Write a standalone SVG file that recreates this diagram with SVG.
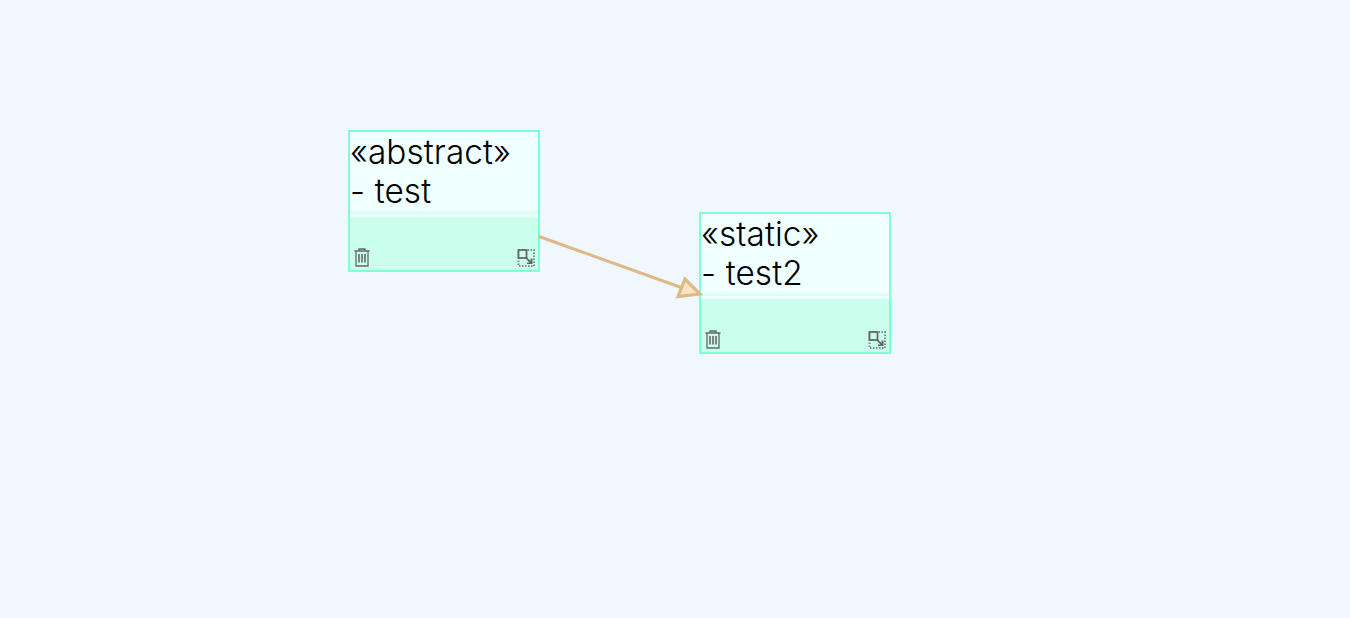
<svg xmlns="http://www.w3.org/2000/svg" width="1350" height="618" viewBox="0 0 1350 618">
<style>
.frame{fill:#f0ffff;stroke:none}
.body{fill:#c9ffec}
.border{fill:none;stroke:#7fffd4;stroke-width:2}
.band{fill:#d9fff2}
.t{font-family:Inter,"Noto Sans",sans-serif;font-weight:300;font-size:33.33px;letter-spacing:.1px;fill:#000}
.ic{fill:none;stroke:#666;stroke-width:1.3}
.ic2{fill:none;stroke:#666;stroke-width:2;stroke-dasharray:1.5 1.5;opacity:.75}
.icf{fill:#666;stroke:none}
</style>
<defs>
<g id="trash">
<path class="ic" d="M0.500 3H15.500M5 3V1H11V3M2 3V18H14V3"/>
<path d="M5 6V14.500M8 6V14.500M11 6V14.500" fill="none" stroke="#666" stroke-width="1.600"/>
</g>
<g id="resize">
<rect class="ic2" x="1" y="1" width="15.500" height="16"/>
<rect x="1" y="1" width="8" height="8" fill="#c9ffec" stroke="#666" stroke-width="1.800"/>
<path class="icf" d="M8 9.500L9.500 8.500L13 12V9.500H15V15H9.500V13.500H12Z"/>
</g>
</defs>
<rect width="1350" height="618" fill="#f0f8ff"/>
<g id="node-abstract">
<rect class="frame" x="349" y="131" width="190" height="140"/>
<rect class="body" x="349" y="217" width="190" height="54"/>
<rect class="band" x="349" y="211" width="190" height="3"/>
<rect class="border" x="349" y="131" width="190" height="140"/>
<text class="t" x="350" y="163.500">«abstract»</text>
<text class="t" x="350" y="202.500">- test</text>
<use href="#trash" x="354" y="248"/>
<use href="#resize" x="517.500" y="249"/>
</g>
<g id="node-static">
<rect class="frame" x="700" y="213" width="190" height="140"/>
<rect class="body" x="700" y="299" width="190" height="54"/>
<rect class="band" x="700" y="293" width="190" height="3"/>
<rect class="border" x="700" y="213" width="190" height="140"/>
<text class="t" x="701" y="245.500">«static»</text>
<text class="t" x="701" y="284.500">- test2</text>
<use href="#trash" x="705" y="330"/>
<use href="#resize" x="868.500" y="331"/>
</g>
<g id="connectors">
<line x1="539" y1="236.500" x2="684" y2="288.500" stroke="#deb887" stroke-width="3"/>
<path d="M700 294L678 296.500L685 279Z" fill="#ffe4c4" stroke="#deb887" stroke-width="3.200"/>
</g>
</svg>
